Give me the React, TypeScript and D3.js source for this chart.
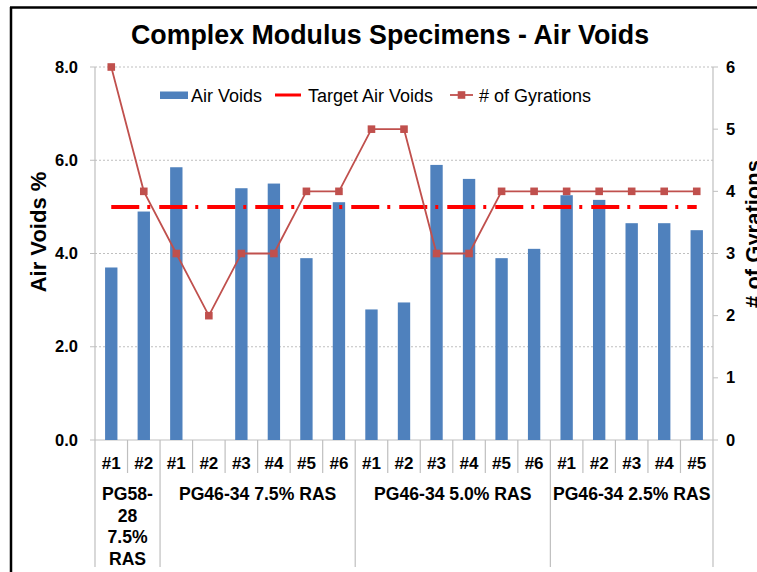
import React from "react";
import * as d3 from "d3";

const categories = ["#1","#2","#1","#2","#3","#4","#5","#6","#1","#2","#3","#4","#5","#6","#1","#2","#3","#4","#5"];
const groupSizes = [2, 6, 6, 5];
const groupLabelLines = [["PG58-", "28", "7.5%", "RAS"], ["PG46-34 7.5% RAS"], ["PG46-34 5.0% RAS"], ["PG46-34 2.5% RAS"]];
const airVoids: (number | null)[] = [3.7, 4.9, 5.85, null, 5.4, 5.5, 3.9, 5.1, 2.8, 2.95, 5.9, 5.6, 3.9, 4.1, 5.25, 5.15, 4.65, 4.65, 4.5];
const gyrations = [6, 4, 3, 2, 3, 3, 4, 4, 5, 5, 3, 3, 4, 4, 4, 4, 4, 4, 4];
const targetAirVoids = 5.0;
const leftTicks = [0, 2, 4, 6, 8];
const rightTicks = [0, 1, 2, 3, 4, 5, 6];

const W = 757, H = 572;
const L = 95, R = 713, T = 67, B = 440;
const FONT = "'Liberation Sans', Arial, sans-serif";
const BAR = "#4F81BD", LINE = "#C0504D", TARGET = "#FF0000", GRID = "#BFBFBF", AXIS = "#BFBFBF";

export default function App() {
  const x = d3.scaleBand<number>().domain(categories.map((_, i) => i)).range([L, R]).padding(0);
  const yL = d3.scaleLinear().domain([0, 8]).range([B, T]);
  const yR = d3.scaleLinear().domain([0, 6]).range([B, T]);
  const bw = x.bandwidth();
  const barW = bw * 0.38;
  const cx = (i: number) => (x(i) as number) + bw / 2;
  const line = d3.line<number>().x((_, i) => cx(i)).y((d) => yR(d));

  const groupStarts: number[] = [];
  let acc = 0;
  groupSizes.forEach((s) => { groupStarts.push(acc); acc += s; });
  const boundaries = [...groupStarts, acc];

  return (
    <svg width={W} height={H} style={{ position: "absolute", left: 0, top: 0, background: "#fff" }} fontFamily={FONT}>
      <rect x={0} y={0} width={W} height={H} fill="#fff" />
      {/* frame */}
      <line x1={11} y1={7} x2={11} y2={H} stroke="#000" strokeWidth={2.5} />
      <line x1={10} y1={7.5} x2={W} y2={7.5} stroke="#000" strokeWidth={2.5} />

      <text x={390} y={44} textAnchor="middle" fontSize={26.8} fontWeight="bold" fill="#000">Complex Modulus  Specimens - Air Voids</text>

      {/* gridlines */}
      {leftTicks.filter((t) => t > 0).map((t) => (
        <line key={"g" + t} x1={L} x2={R} y1={yL(t)} y2={yL(t)} stroke={GRID} strokeWidth={1} strokeDasharray="2,2" />
      ))}

      {/* axes */}
      <line x1={L} x2={L} y1={T} y2={B} stroke={AXIS} strokeWidth={1.2} />
      <line x1={R} x2={R} y1={T} y2={B} stroke={AXIS} strokeWidth={1.2} />
      <line x1={L} x2={R} y1={B} y2={B} stroke={AXIS} strokeWidth={1.2} />
      {leftTicks.map((t) => (
        <g key={"lt" + t}>
          <line x1={L - 5} x2={L} y1={yL(t)} y2={yL(t)} stroke={AXIS} />
          <text x={78} y={yL(t) + 5.5} textAnchor="end" fontSize={16.5} fontWeight="bold" fill="#000">{t.toFixed(1)}</text>
        </g>
      ))}
      {rightTicks.map((t) => (
        <g key={"rt" + t}>
          <line x1={R} x2={R + 5} y1={yR(t)} y2={yR(t)} stroke={AXIS} />
          <text x={726} y={yR(t) + 5.5} textAnchor="start" fontSize={16.5} fontWeight="bold" fill="#000">{t}</text>
        </g>
      ))}

      {/* bars */}
      {airVoids.map((v, i) => v == null ? null : (
        <rect key={"b" + i} x={cx(i) - barW / 2} y={yL(v)} width={barW} height={yL(0) - yL(v)} fill={BAR} />
      ))}

      {/* target line */}
      <line x1={cx(0)} x2={cx(categories.length - 1)} y1={yL(targetAirVoids)} y2={yL(targetAirVoids)} stroke={TARGET} strokeWidth={4} strokeDasharray="28,8,3,9" />

      {/* gyrations */}
      <path d={line(gyrations) as string} fill="none" stroke={LINE} strokeWidth={1.8} />
      {gyrations.map((g, i) => (
        <rect key={"m" + i} x={cx(i) - 3.8} y={yR(g) - 3.8} width={7.6} height={7.6} fill={LINE} />
      ))}

      {/* x category separators and labels */}
      {categories.map((c, i) => (
        <g key={"c" + i}>
          <line x1={x(i) as number} x2={x(i) as number} y1={B} y2={boundaries.includes(i) ? 567 : 473} stroke={AXIS} strokeWidth={1.2} />
          <text x={cx(i)} y={469} textAnchor="middle" fontSize={17} fontWeight="bold" fill="#000">{c}</text>
        </g>
      ))}
      <line x1={R} x2={R} y1={B} y2={567} stroke={AXIS} strokeWidth={1.2} />
      {groupLabelLines.map((lines, gi) => {
        const x0 = x(boundaries[gi]) as number;
        const x1 = boundaries[gi + 1] < categories.length ? (x(boundaries[gi + 1]) as number) : R;
        return lines.map((ln, li) => (
          <text key={"gl" + gi + "-" + li} x={(x0 + x1) / 2} y={500 + li * 21.5} textAnchor="middle" fontSize={17.6} fontWeight="bold" fill="#000">{ln}</text>
        ));
      })}

      {/* axis titles */}
      <text transform={`translate(46,232) rotate(-90)`} textAnchor="middle" fontSize={22} fontWeight="bold" fill="#000">Air Voids %</text>
      <text transform={`translate(761,234) rotate(-90)`} textAnchor="middle" fontSize={22} fontWeight="bold" fill="#000"># of Gyrations</text>

      {/* legend */}
      <rect x={160} y={91.5} width={28} height={7.5} fill={BAR} />
      <text x={191} y={101.5} fontSize={18} fill="#000">Air Voids</text>
      <line x1={275} x2={301} y1={95} y2={95} stroke={TARGET} strokeWidth={3} />
      <text x={308} y={101.5} fontSize={18} fill="#000">Target Air Voids</text>
      <line x1={450} x2={473} y1={95} y2={95} stroke={LINE} strokeWidth={1.8} />
      <rect x={457.7} y={91.2} width={7.6} height={7.6} fill={LINE} />
      <text x={479} y={101.5} fontSize={18} fill="#000"># of Gyrations</text>
    </svg>
  );
}
